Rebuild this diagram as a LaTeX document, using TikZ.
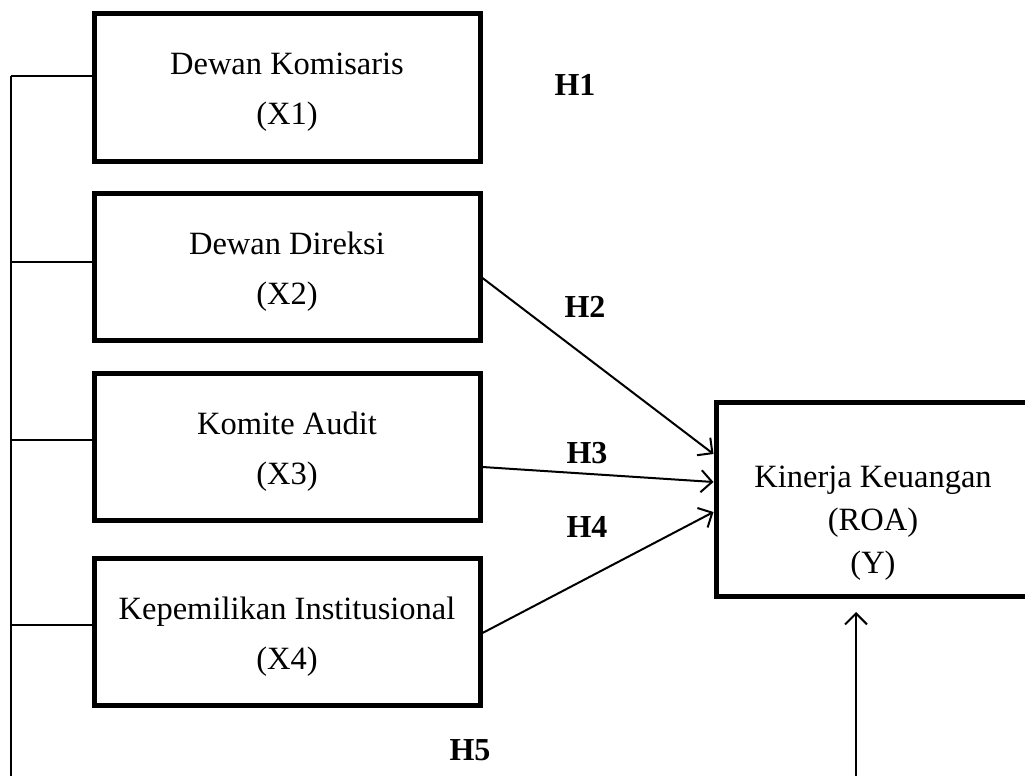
\documentclass[tikz,border=0pt]{standalone}
\usepackage{fontspec}
\setmainfont{Liberation Serif}
\usetikzlibrary{arrows.meta}
\begin{document}
\begin{tikzpicture}[x=1pt,y=-1pt,
  varbox/.style={draw,line width=5pt,minimum width=386pt,minimum height=147pt,inner sep=0pt},
  vtext/.style={align=center,inner sep=0pt,font=\fontsize{32.5}{50}\selectfont},
  ybox/.style={draw,line width=5pt,minimum width=315pt,minimum height=194pt,inner sep=0pt},
  ytext/.style={align=center,inner sep=0pt,font=\fontsize{32.5}{43}\selectfont},
  hlab/.style={font=\fontsize{32}{36}\selectfont\bfseries,inner sep=0pt},
  thin/.style={line width=1.5pt},
  arr/.style={line width=2pt,-{Straight Barb[length=11pt,width=22pt,line width=2pt]}}]
\useasboundingbox (0,0) rectangle (1025,776);
\clip (0,0) rectangle (1025,776);
\node[varbox] (X1) at (287,87.5) {};
\node[varbox] (X2) at (287,266.5) {};
\node[varbox] (X3) at (287,447) {};
\node[varbox] (X4) at (287,631.5) {};
\node[vtext] (T1) at ([yshift=-5pt]X1.center) {Dewan Komisaris\\(X1)};
\node[vtext] (T2) at ([yshift=-5pt]X2.center) {Dewan Direksi\\(X2)};
\node[vtext] (T3) at ([yshift=-5pt]X3.center) {Komite Audit\\(X3)};
\node[vtext] (T4) at ([yshift=-5pt]X4.center) {Kepemilikan Institusional\\(X4)};
\node[ybox] (Y) at (873.5,499) {};
\node[ytext] (Yt) at (873,523) {Kinerja Keuangan\\(ROA)\\(Y)};
\node[hlab] (H1) at (575,85) {H1};
\node[hlab] (H2) at (585,307) {H2};
\node[hlab] (H3) at (587,453) {H3};
\node[hlab] (H4) at (587,527) {H4};
\node[hlab] (H5) at (470,750) {H5};
\coordinate (c1) at (11,76);
\coordinate (c2) at (11,262);
\coordinate (c3) at (11,440);
\coordinate (c4) at (11,625);
\coordinate (cb) at (11,790);
\draw[thin] (c1) -- (cb);
\draw[thin] (c1) -- (X1.west |- c1);
\draw[thin] (c2) -- (X2.west |- c2);
\draw[thin] (c3) -- (X3.west |- c3);
\draw[thin] (c4) -- (X4.west |- c4);
\draw[arr] ([yshift=-11.5pt]X2.east) -- ([yshift=45pt]Y.west);
\draw[arr] ([yshift=-20pt]X3.east) -- ([yshift=17pt]Y.west);
\draw[arr] ([yshift=-1.5pt]X4.east) -- ([yshift=-13pt]Y.west);
\coordinate (yb) at (856,790);
\draw[arr] (yb) -- (yb |- 0,612);
\end{tikzpicture}
\end{document}
